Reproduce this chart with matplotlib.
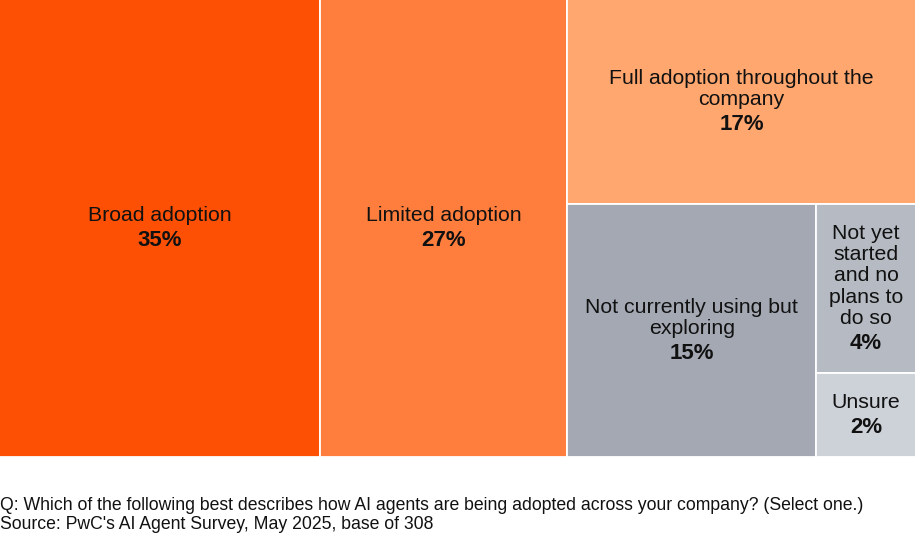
import matplotlib
matplotlib.use('Agg')
import matplotlib.pyplot as plt
from matplotlib.patches import Rectangle

plt.rcParams['font.family'] = ['Liberation Sans', 'DejaVu Sans']

# data
labels = ['Broad adoption', 'Limited adoption', 'Full adoption throughout the\ncompany',
          'Not currently using but\nexploring', 'Not yet\nstarted\nand no\nplans to\ndo so', 'Unsure']
values = [35, 27, 17, 15, 4, 2]
colors = ['#FE5005', '#FF7E3D', '#FFA76E', '#A3A8B3', '#B6BBC3', '#CDD1D8']

W, H = 915.0, 457.0


def worst(row, side):
    s = sum(row)
    return max(max(side * side * r / (s * s), s * s / (side * side * r)) for r in row)


def squarify(areas, x, y, w, h):
    # y measured from top
    rects = []
    areas = list(areas)
    while areas:
        side = min(w, h)
        row = [areas[0]]
        i = 1
        while i < len(areas) and worst(row + [areas[i]], side) <= worst(row, side):
            row.append(areas[i])
            i += 1
        areas = areas[i:]
        s = sum(row)
        if w >= h:
            cw = s / h
            yy = y
            for r in row:
                rh = r / cw
                rects.append((x, yy, cw, rh))
                yy += rh
            x += cw
            w -= cw
        else:
            rh = s / w
            xx = x
            for r in row:
                rw = r / rh
                rects.append((xx, y, rw, rh))
                xx += rw
            y += rh
            h -= rh
    return rects


tot = float(sum(values))
areas = [v / tot * W * H for v in values]
rects = squarify(areas, 0, 0, W, H)

fig = plt.figure(figsize=(9.15, 5.36), dpi=100)
ax = fig.add_axes([0, (536 - H) / 536.0, 1, H / 536.0])
ax.set_xlim(0.7, W - 0.7)
ax.set_ylim(H, 0.7)
ax.axis('off')

fs = 15.3
L = 15.5   # label line step, points
G = 18.0   # last label line to percent, points
for (x, y, w, h), lab, v, c in zip(rects, labels, values, colors):
    ax.add_patch(Rectangle((x, y), w, h, facecolor=c, edgecolor='white', lw=1.3))
    cx, cy = x + w / 2, y + h / 2
    n = lab.count('\n') + 1
    span = (n - 1) * L + G
    ax.annotate(lab, (cx, cy), xytext=(0, G / 2), textcoords='offset points',
                ha='center', va='center', fontsize=fs, color='#111111', linespacing=1.16)
    ax.annotate('%d%%' % v, (cx, cy), xytext=(0, -span / 2), textcoords='offset points',
                ha='center', va='center', fontsize=16, color='#111111', fontweight='bold')

fig.text(0.0, 1 - 510 / 536.0, 'Q: Which of the following best describes how AI agents are being adopted across your company? (Select one.)',
         fontsize=12.7, color='#111111', ha='left', va='baseline')
fig.text(0.0, 1 - 529 / 536.0, "Source: PwC's AI Agent Survey, May 2025, base of 308",
         fontsize=12.7, color='#111111', ha='left', va='baseline')

fig.savefig('out.png', dpi=100)
